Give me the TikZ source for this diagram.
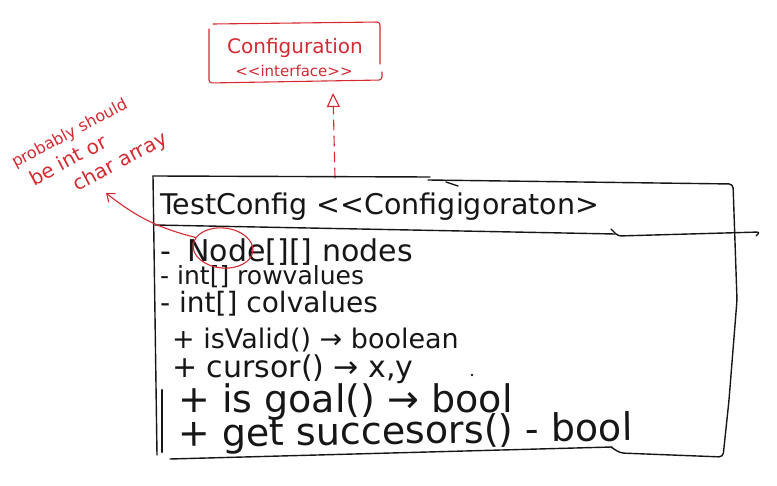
\documentclass[tikz,border=0pt]{standalone}
\usepackage{fontspec}
\setmainfont{DejaVu Sans}[Ligatures=TeXOff]
\usetikzlibrary{arrows.meta,shapes.geometric}
\definecolor{penred}{RGB}{212,42,50}
\definecolor{penblack}{RGB}{22,22,22}

\begin{document}
\begin{tikzpicture}[x=1pt,y=-1pt,line cap=round,line join=round,
  ink/.style={line width=1.4pt,penblack},
  redink/.style={line width=1.1pt,penred},
  row/.style={anchor=base west,inner sep=0pt,text=penblack},
  note/.style={inner sep=0pt,text=penred,align=left}]
\useasboundingbox (0,0) rectangle (777,486);
\coordinate (ifTL) at (209,29);
\coordinate (ifTR) at (380,22);
\coordinate (ifBL) at (209,83);
\coordinate (ifBR) at (382,80);
\coordinate (tri) at (333,93);
\coordinate (clsTop) at (335,178);
\coordinate (boxTL) at (153,176);
\coordinate (boxBL) at (157,455);
\coordinate (boxTR) at (733,184);
\coordinate (boxBR) at (723,457);
\coordinate (noteTip) at (106,193);
\draw[redink,rounded corners=3pt] (380,64) -- (ifTR) -- (213,24);
\draw[redink,rounded corners=3pt] (ifTL) -- (ifBL) -- (ifBR) -- (382,72);
\node[inner sep=0pt,text=penred,font=\fontsize{20}{22}\selectfont] (ifname) at (295,48) {Configuration};
\node[inner sep=0pt,text=penred,font=\fontsize{15}{17}\selectfont] (ifstereo) at (294,71) {<<interface>>};
\draw[redink,dashed,dash pattern=on 10pt off 6pt,-{Triangle[open,length=14pt,width=13pt]}] (clsTop) -- (tri);
\draw[ink] (boxTL) -- (430,177);
\draw[ink] (446,182) -- (458,186);
\draw[ink,rounded corners=4pt] (428,180) -- (boxTR) -- (737,300) -- (729,400) -- (boxBR) -- (620,453) -- (611,447);
\draw[ink] (boxTL) -- (boxBL);
\draw[ink,line width=2.2pt] (162,390) -- (162,452);
\draw[ink] (170,459) -- (612,447);
\draw[ink] (155,225) -- (615,234);
\draw[ink,rounded corners=3pt] (611,229) -- (618,236) -- (760,232) -- (756,236);
\node[row,font=\fontsize{28.5}{30}\selectfont] (title) at (160,215) {TestConfig <<Configigoraton>};
\node[row,font=\fontsize{30}{32}\selectfont] (attr1) at (160,262) {-\hspace{0.55em}Node[][] nodes};
\node[row,font=\fontsize{25}{27}\selectfont] (attr2) at (160,285) {- int[] rowvalues};
\node[row,font=\fontsize{28}{30}\selectfont] (attr3) at (160,313) {- int[] colvalues};
\node[row,font=\fontsize{27}{29}\selectfont] (op1) at (172,349) {+ isValid() → boolean};
\node[row,font=\fontsize{30}{32}\selectfont] (op2) at (172,378) {+ cursor() → x,y};
\fill[penblack] (472,375) circle (1.3pt);
\node[row,font=\fontsize{38}{40}\selectfont] (op3) at (178,413) {+ is goal() → bool};
\node[row,rotate=0.8,font=\fontsize{38}{40}\selectfont] (op4) at (178,447) {+ get succesors() - bool};
\node[ellipse,draw=penred,line width=1.1pt,minimum width=60pt,minimum height=40pt,rotate=-6] (nodering) at (223,248) {};
\draw[redink,-{Straight Barb[length=7pt,width=11pt]}] (nodering.165) to[bend left=12] (noteTip);
\node[note,rotate=28,font=\fontsize{16}{25}\selectfont] (note) at (90,152) {probably should\\\hspace{8pt}{\fontsize{20}{25}\selectfont be int or}\\\hspace{44pt}{\fontsize{20}{25}\selectfont char array}};
\end{tikzpicture}
\end{document}
